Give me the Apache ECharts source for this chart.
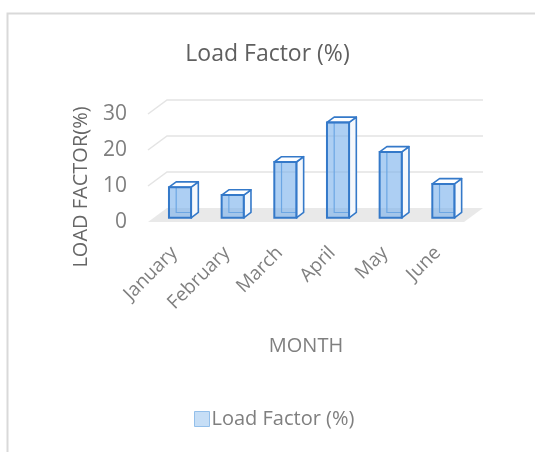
<!DOCTYPE html>
<html>
<head>
<meta charset="utf-8">
<script src="https://cdn.jsdelivr.net/npm/echarts@6/dist/echarts.min.js"></script>
<style>
  html, body { margin: 0; padding: 0; background: #fff; }
  #chart { width: 535px; height: 452px; }
</style>
</head>
<body>
<div id="chart"></div>
<script>
(function () {
    // data
    const months = ['January', 'February', 'March', 'April', 'May', 'June'];
    const loadFactor = [8.5, 6.3, 15.5, 26.5, 18.3, 9.4];
    const yTicks = [0, 10, 20, 30];

    const DEPTH = [19, -14];      // pixel offset from front plane to back wall
    const BAR_FRONT = 0.3;        // where the bar front face sits in the depth
    const BAR_DEPTH = 0.38;       // box thickness as part of the depth
    const textFont = 'Open Sans';

    let myChart = echarts.init(document.getElementById('chart'));

    // back wall gridlines and floor
    function renderWall(params, api) {
        let v = api.value(0);
        let cs = params.coordSys;
        let p = api.coord([0, v]);
        let xl = cs.x, xr = cs.x + cs.width;
        let y = p[1];
        if (v === 0) {
            return {
                type: 'polygon',
                shape: { points: [[xl, y], [xr, y], [xr + DEPTH[0], y + DEPTH[1]], [xl + DEPTH[0], y + DEPTH[1]]] },
                style: { fill: '#e9e9e9', stroke: null }
            };
        }
        return {
            type: 'polyline',
            shape: { points: [[xl, y], [xl + DEPTH[0], y + DEPTH[1]], [xr + DEPTH[0], y + DEPTH[1]]] },
            style: { stroke: '#e4e4e4', lineWidth: 1.5, fill: null }
        };
    }

    function renderBox(params, api) {
        let i = api.value(0), v = api.value(1);
        let base = api.coord([i, 0]);
        let top = api.coord([i, v]);
        let bw = api.size([1, 0])[0] * 0.42;
        let ox = DEPTH[0] * BAR_FRONT, oy = DEPTH[1] * BAR_FRONT;
        let dx = DEPTH[0] * BAR_DEPTH, dy = DEPTH[1] * BAR_DEPTH;
        let x0 = base[0] - bw / 2 + ox, x1 = x0 + bw;
        let yb = base[1] + oy, yt = top[1] + oy;
        let edge = '#3479c9';
        return {
            type: 'group',
            children: [
                {   // hidden back edges, seen through the front
                    type: 'polyline',
                    shape: { points: [[x0 + dx, yt + dy], [x0 + dx, yb + dy], [x1 + dx, yb + dy]] },
                    style: { stroke: '#5d9ad8', lineWidth: 1.2, fill: null }
                },
                {   // right side
                    type: 'polygon',
                    shape: { points: [[x1, yt], [x1 + dx, yt + dy], [x1 + dx, yb + dy], [x1, yb]] },
                    style: { fill: '#f5f8fc', stroke: edge, lineWidth: 1.6, lineJoin: 'round' }
                },
                {   // top
                    type: 'polygon',
                    shape: { points: [[x0, yt], [x0 + dx, yt + dy], [x1 + dx, yt + dy], [x1, yt]] },
                    style: { fill: '#ffffff', stroke: edge, lineWidth: 1.6, lineJoin: 'round' }
                },
                {   // front
                    type: 'rect',
                    shape: { x: x0, y: yt, width: bw, height: yb - yt },
                    style: { fill: 'rgba(118,175,235,0.6)', stroke: edge, lineWidth: 2 }
                }
            ]
        };
    }

    let option = {
        backgroundColor: '#fff',
        title: {
            text: 'Load Factor (%)',
            left: 'center',
            top: 38,
            textStyle: { fontFamily: textFont, fontSize: 23, fontWeight: 'normal', color: '#5f5f5f' }
        },
        legend: {
            left: 189,
            top: 404,
            itemWidth: 15,
            itemHeight: 15,
            icon: 'rect',
            data: [{
                name: 'Load Factor (%)',
                itemStyle: { color: '#c6def6', borderColor: '#93bfea', borderWidth: 1 }
            }],
            textStyle: { fontFamily: textFont, fontSize: 20, color: '#7f7f7f', padding: [0, 0, 0, -3] }
        },
        grid: {
            left: 148,
            right: 71,
            top: 114,
            bottom: 230
        },
        xAxis: {
            type: 'category',
            data: months,
            name: 'MONTH',
            nameLocation: 'middle',
            nameGap: 114,
            nameTextStyle: { fontFamily: textFont, fontSize: 20, color: '#7f7f7f' },
            axisLine: { show: false },
            axisTick: { show: false },
            axisLabel: {
                rotate: 45,
                interval: 0,
                margin: 28,
                fontFamily: textFont,
                fontSize: 19,
                color: '#7f7f7f'
            }
        },
        yAxis: {
            type: 'value',
            min: 0,
            max: 30,
            interval: 10,
            axisLine: { show: false },
            axisTick: { show: false },
            splitLine: { show: false },
            axisLabel: { margin: 21, fontFamily: textFont, fontSize: 21, color: '#7f7f7f' }
        },
        graphic: [
            {   // outer frame, only top and left edges are visible
                type: 'rect',
                left: 5, top: 11,
                shape: { width: 600, height: 500 },
                style: { fill: null, stroke: '#d9d9d9', lineWidth: 2 }
            },
            {
                type: 'text',
                x: 81, y: 187,
                rotation: Math.PI / 2,
                style: {
                    text: 'LOAD FACTOR(%)',
                    align: 'center',
                    verticalAlign: 'middle',
                    font: '20px "Open Sans"',
                    fill: '#666666'
                }
            }
        ],
        series: [
            {
                type: 'custom',
                name: 'wall',
                silent: true,
                renderItem: renderWall,
                data: yTicks.map(function (t) { return [t]; }),
                encode: { y: 0 },
                z: 1
            },
            {
                type: 'custom',
                name: 'Load Factor (%)',
                renderItem: renderBox,
                data: loadFactor.map(function (v, i) { return [i, v]; }),
                encode: { x: 0, y: 1 },
                z: 2
            }
        ]
    };
    myChart.setOption(option);
})();
</script>
</body>
</html>
